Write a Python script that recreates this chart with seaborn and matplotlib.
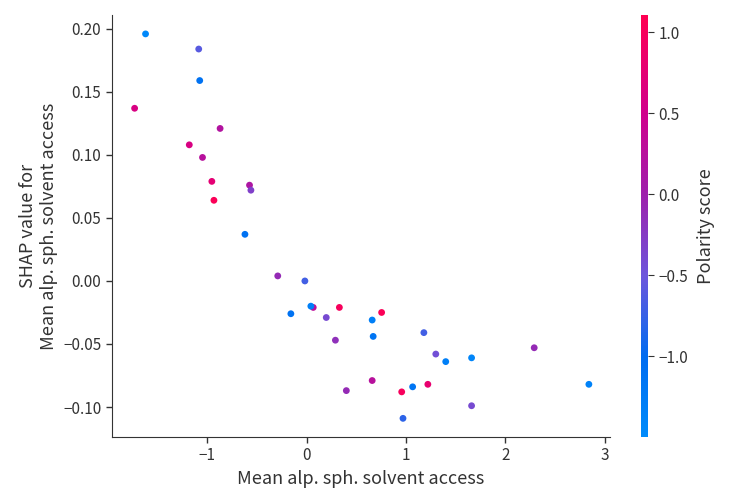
import numpy as np
import pandas as pd
import matplotlib
matplotlib.use("Agg")
import matplotlib.pyplot as plt
import seaborn as sns
from matplotlib.colors import LinearSegmentedColormap, Normalize

# feature value, shap value, colour feature (polarity score)
feat = [-1.62, -1.085, -1.075, -1.73, -0.87, -1.18, -1.047, -0.953, -0.574, -0.56, -0.932, -0.62,
        -0.29, -0.017, -0.158, 0.067, 0.043, 0.33, 0.198, 0.755, 0.66, 0.67, 0.29, 1.18,
        1.30, 1.40, 1.66, 2.29, 2.84, 0.40, 0.66, 0.957, 1.067, 1.22, 1.66, 0.97]
shap_val = [0.196, 0.184, 0.159, 0.137, 0.121, 0.108, 0.098, 0.079, 0.076, 0.072, 0.064, 0.037,
            0.004, 0.000, -0.026, -0.021, -0.020, -0.021, -0.029, -0.025, -0.031, -0.044, -0.047, -0.041,
            -0.058, -0.064, -0.061, -0.053, -0.082, -0.087, -0.079, -0.088, -0.084, -0.082, -0.099, -0.109]
polarity = [-1.45, -0.6, -1.1, 0.6, 0.2, 0.6, 0.25, 0.75, 0.15, -0.3, 1.05, -1.1,
            -0.1, -0.7, -1.1, 0.3, -1.3, 1.0, -0.4, 1.05, -1.3, -1.15, -0.15, -0.7,
            -0.45, -1.3, -1.4, -0.1, -1.35, -0.1, 0.25, 1.0, -1.15, 0.8, -0.4, -0.8]

df = pd.DataFrame({"x": feat, "y": shap_val, "c": polarity})

sns.set_style("white")
plt.rcParams['font.family'] = ['Noto Sans CJK JP', 'DejaVu Sans']
plt.rcParams['axes.unicode_minus'] = True

red_blue = LinearSegmentedColormap.from_list(
    "red_blue",
    [(0.0, (0/255, 139/255, 251/255)),
     (0.19, (0/255, 108/255, 240/255)),
     (0.38, (108/255, 86/255, 220/255)),
     (0.575, (158/255, 32/255, 172/255)),
     (0.77, (208/255, 0/255, 140/255)),
     (1.0, (255/255, 0/255, 82/255))])
vmin, vmax = -1.5, 1.105
norm = Normalize(vmin=vmin, vmax=vmax)

fig = plt.figure(figsize=(7.5, 5), dpi=100)
ax = fig.add_axes([0.149, 0.126, 0.664, 0.844])
cax = fig.add_axes([0.855, 0.126, 0.0093, 0.844])

sns.scatterplot(data=df, x="x", y="y", hue="c", palette=red_blue, hue_norm=norm,
                s=24, linewidth=0, legend=False, ax=ax)

ax.set_xlim(-1.96, 3.05)
ax.set_ylim(-0.1238, 0.211)
ax.set_xticks([-1, 0, 1, 2, 3])
ax.set_yticks([-0.10, -0.05, 0.00, 0.05, 0.10, 0.15, 0.20])
ax.set_yticklabels(["−0.10", "−0.05", "0.00", "0.05", "0.10", "0.15", "0.20"])
ax.set_xlabel("Mean alp. sph. solvent access", fontsize=13, color="#333333")
ax.set_ylabel("SHAP value for\nMean alp. sph. solvent access", fontsize=13, color="#333333")
for s in ["top", "right"]:
    ax.spines[s].set_visible(False)
for s in ["left", "bottom"]:
    ax.spines[s].set_color("#333333")
ax.tick_params(axis="both", labelsize=11, labelcolor="#333333", color="#333333",
               length=4, width=1, direction="out", bottom=True, left=True)

sm = plt.cm.ScalarMappable(cmap=red_blue, norm=norm)
cb = fig.colorbar(sm, cax=cax)
cb.outline.set_visible(False)
cb.set_ticks([-1.0, -0.5, 0.0, 0.5, 1.0])
cb.ax.tick_params(labelsize=11, length=4, color="#333333", labelcolor="#333333")
cb.set_label("Polarity score", fontsize=13, color="#333333", labelpad=6)

fig.savefig("out.png", dpi=100)
